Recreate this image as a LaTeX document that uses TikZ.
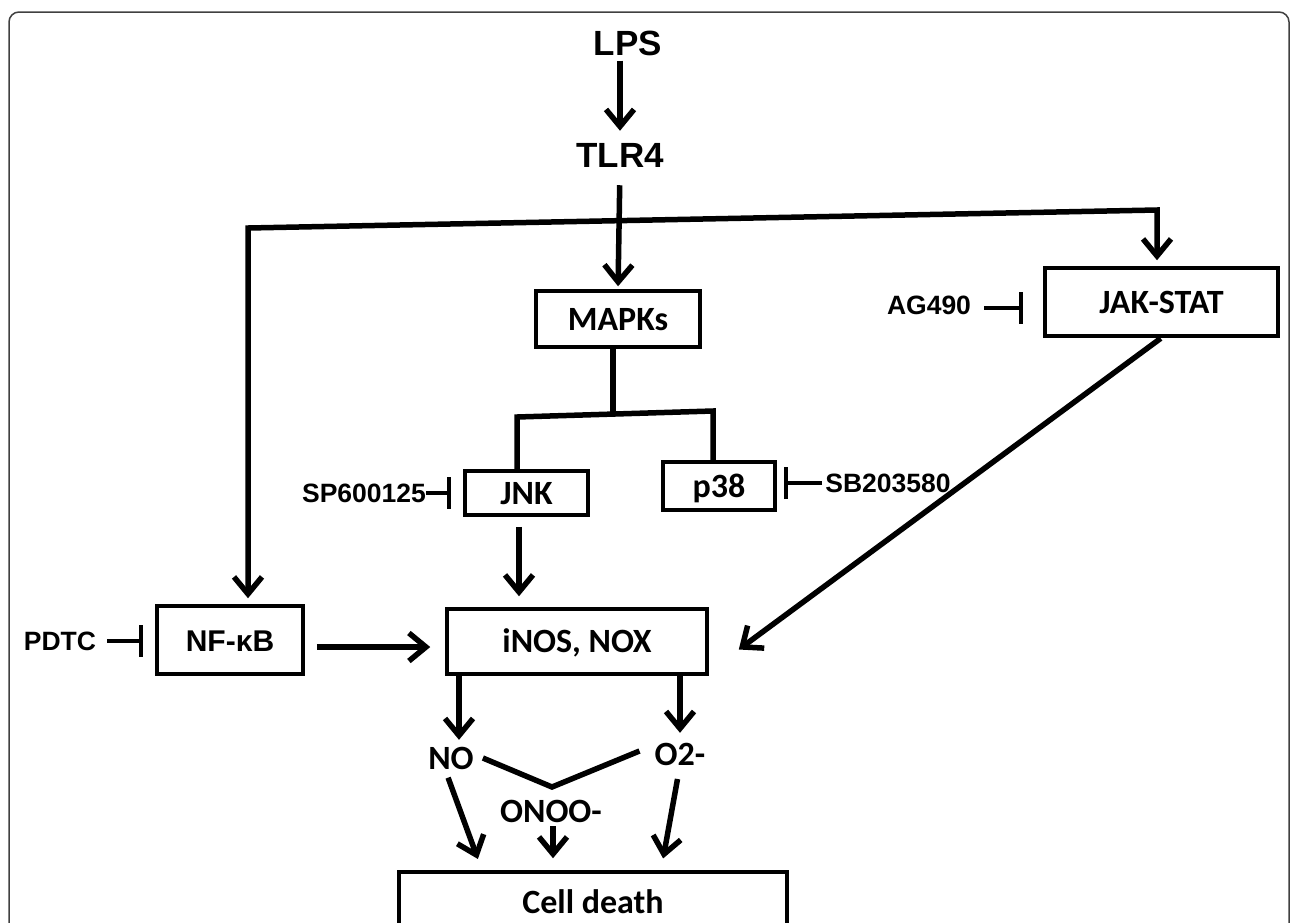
\documentclass[tikz,border=0pt]{standalone}
\usepackage{fontspec}
\setmainfont{Liberation Sans}
\newfontfamily\calibrifont{Carlito}
\usetikzlibrary{arrows.meta}
\tikzset{>={Straight Barb[length=17pt, width=28pt]}}
\newcommand{\topfont}{\fontsize{35}{40}\selectfont\bfseries}
\newcommand{\drugfont}{\fontsize{26.5}{30}\selectfont\bfseries}
\newcommand{\boxfont}{\calibrifont\fontsize{34}{38}\selectfont\bfseries}
\tikzset{
	box/.style = {draw, line width = 3.5pt, inner sep = 0pt, text height = 22pt, text depth = 0pt, font = \boxfont},
	mol/.style = {inner sep = 0pt, text height = 22pt, text depth = 0pt, font = \boxfont},
	drug/.style = {inner sep = 0pt, font = \drugfont},
	arr/.style = {->, line width = 5.5pt},
	link/.style = {line width = 5.5pt},
	inh/.style = {-{Bar[width = 32pt]}, line width = 4pt}
}

\begin{document}
\begin{tikzpicture}[x = 1pt, y = -1pt]
	\useasboundingbox (0,0) rectangle (1290,922);
	\clip (0,0) rectangle (1290,922);
	\draw[line width = 1.5pt, black!75, rounded corners = 10pt] (9,940) -- (9,12) -- (1289,12) -- (1289,940);

	\node (lps) at (628,43) [font = \topfont, inner sep = 0pt] {LPS};
	\node (tlr) at (620,155) [font = \topfont, inner sep = 0pt] {TLR4};
	\node (mapk) at (618,319) [box, minimum width = 164pt, minimum height = 56pt] {MAPKs};
	\node (jnk) at (526.5,493) [box, minimum width = 123pt, minimum height = 44pt] {JNK};
	\node (p38) at (719,486) [box, minimum width = 112pt, minimum height = 48pt] {p38};
	\node (jak) at (1161.5,302) [box, minimum width = 233pt, minimum height = 68pt] {JAK-STAT};
	\node (nfkb) at (230,640) [box, minimum width = 146pt, minimum height = 68pt, font = \fontsize{30}{34}\selectfont\bfseries] {NF-κB};
	\node (inos) at (577,641.5) [box, minimum width = 260pt, minimum height = 65pt] {iNOS, NOX};
	\node (cell) at (593,902) [box, minimum width = 388pt, minimum height = 60pt] {Cell death};
	\node (no) at (451,758) [mol] {NO};
	\node (o2) at (680,754) [mol] {O2-};
	\node (onoo) at (551,811) [mol] {ONOO-};
	\node (pdtc) at (60,641) [drug] {PDTC};
	\node (ag) at (929,305) [drug] {AG490};
	\node (sp) at (364,493) [drug] {SP600125};
	\node (sb) at (888,483) [drug] {SB203580};

	\coordinate (bl) at (248,228);
	\coordinate (br) at (1157,210);
	\coordinate (mj) at (613,414);
	\coordinate (jl) at (517,417);
	\coordinate (pr) at (713,411);
	\coordinate (vx) at (552,787);

	\draw[arr, shorten <= 5pt, shorten >= 12pt] (lps.south -| tlr.north) -- (tlr.north);
	\draw[arr, shorten <= 18pt, shorten >= 3pt] (tlr.south) -- (mapk.north);
	\draw[arr, <->, shorten <= 6pt, shorten >= 6pt] (bl |- nfkb.north) -- (bl) -- (br) -- (br |- jak.north);
	\draw[link] (mapk.south -| mj) -- (mj);
	\draw[link] (jl |- jnk.north) -- (jl) -- (pr) -- (pr |- p38.north);
	\draw[arr, shorten <= 10pt, shorten >= 11pt] ([xshift = -7.5pt]jnk.south) -- ([xshift = -7.5pt]jnk.south |- inos.north);
	\draw[arr, shorten <= 12pt, shorten >= 15pt] ([yshift = -7pt]nfkb.east) -- ([yshift = -7pt]nfkb.east -| inos.west);
	\draw[arr, shorten <= 1pt] (jak.south) -- ([xshift = 30pt, yshift = -8pt]inos.east);
	\draw[arr, shorten >= 7pt] ([xshift = 8pt]no.north |- inos.south) -- ([xshift = 8pt]no.north);
	\draw[arr, shorten >= 10pt] (o2.north |- inos.south) -- (o2.north);
	\draw[link] ([xshift = 9pt]no.east) -- (vx) -- ([shift = {(-15pt,3pt)}]o2.west);
	\draw[arr, shorten <= 9pt, shorten >= 12pt] ([xshift = -6pt]no.south) -- ([xshift = -111pt]cell.north);
	\draw[arr, shorten <= 4pt, shorten >= 12pt] ([xshift = 2pt]onoo.south) -- ([xshift = 2pt]onoo.south |- cell.north);
	\draw[arr, shorten <= 14pt, shorten >= 12pt] (o2.south) -- ([xshift = 68pt]cell.north);

	\draw[inh, shorten <= 11pt, shorten >= 12pt] (pdtc.east) -- (pdtc.east -| nfkb.west);
	\draw[inh, shorten <= 13pt, shorten >= 20pt] ([yshift = -3pt]ag.east) -- ([yshift = -3pt]ag.east -| jak.west);
	\draw[inh, shorten >= 12pt] (sp.east) -- (sp.east -| jnk.west);
	\draw[inh, shorten <= 3pt, shorten >= 7pt] (sb.west) -- (sb.west -| p38.east);
\end{tikzpicture}
\end{document}
